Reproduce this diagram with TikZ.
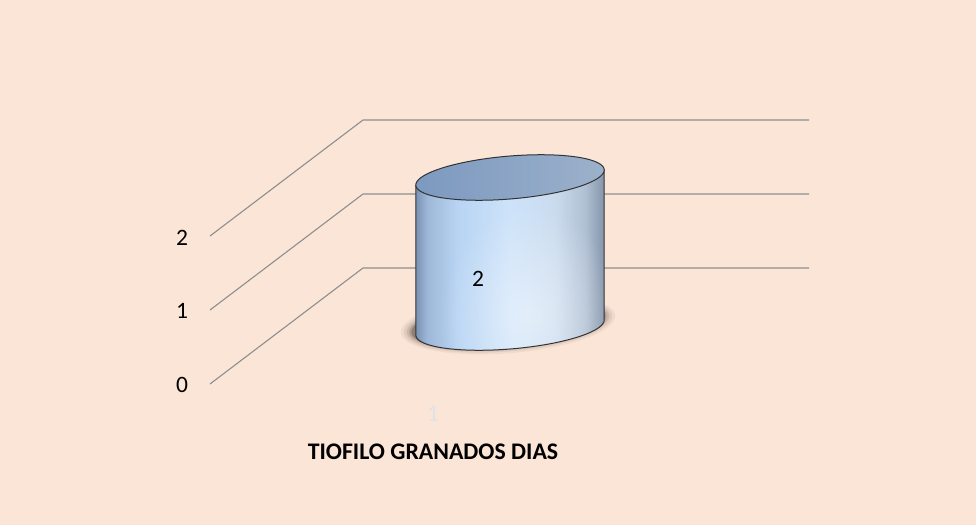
\documentclass[tikz,border=0pt]{standalone}
\usepackage{fontspec}
\setmainfont{Carlito}
\usetikzlibrary{fadings}
\definecolor{bgpeach}{HTML}{FBE5D7}
\definecolor{gridgray}{HTML}{8E8E8E}
\definecolor{cyltopA}{HTML}{7C99C0}
\definecolor{cyltopB}{HTML}{9CB1CB}
\definecolor{faintlabel}{HTML}{DCE3EA}
\pgfdeclarehorizontalshading{cylshade}{100bp}{
  color(0bp)=(rgb,255:red,122;green,146;blue,180);
  color(25bp)=(rgb,255:red,122;green,146;blue,180);
  color(28bp)=(rgb,255:red,158;green,183;blue,216);
  color(36bp)=(rgb,255:red,184;green,212;blue,243);
  color(50bp)=(rgb,255:red,205;green,227;blue,250);
  color(62bp)=(rgb,255:red,202;green,219;blue,238);
  color(70bp)=(rgb,255:red,176;green,192;blue,211);
  color(75bp)=(rgb,255:red,132;green,148;blue,170);
  color(100bp)=(rgb,255:red,132;green,148;blue,170)}
\tikzfading[name=softglow, inner color=transparent!55, outer color=transparent!100]
\tikzset{
  gridline/.style={draw=gridgray, line width=1.1pt},
  axislabel/.style={font=\fontsize{23.5}{24}\selectfont, text=black, inner sep=0pt},
  titlelabel/.style={font=\bfseries\fontsize{23.8}{24}\selectfont, text=black, inner sep=0pt},
  cylout/.style={draw=black!80, line width=1pt},
}
\begin{document}
\begin{tikzpicture}[x=1pt,y=-1pt]
\useasboundingbox (0,0) rectangle (976,525);
\fill[bgpeach] (0,0) rectangle (976,525);

% grid lines (floor-to-back-wall)
\coordinate (g0a) at (210,384); \coordinate (g0b) at (363,268); \coordinate (g0c) at (809,268);
\coordinate (g1a) at (210,310); \coordinate (g1b) at (363,194); \coordinate (g1c) at (809,194);
\coordinate (g2a) at (210,236); \coordinate (g2b) at (363,120); \coordinate (g2c) at (809,120);
\draw[gridline] (g0a) -- (g0b) -- (g0c);
\draw[gridline] (g1a) -- (g1b) -- (g1c);
\draw[gridline] (g2a) -- (g2b) -- (g2c);

% axis labels
\node[axislabel] (l0) at (182,385) {0};
\node[axislabel] (l1) at (182,311) {1};
\node[axislabel] (l2) at (182,238) {2};

% shadow (soft, dark near the base)
\foreach \r/\o in {13/0.05,10/0.07,7/0.10,4.5/0.15,2.5/0.22}{
  \fill[black!85!brown,opacity=\o] plot[domain=0:360,samples=90,smooth cycle]
    ({508+(94.2+\r)*cos(\x)},{324-8*cos(\x)+(21.5+\r*0.6)*sin(\x)});
}

% cylinder body
\def\bodypath{(415.8,185) -- (415.8,335)
  -- plot[domain=180:0,samples=60,smooth] ({510+94.2*cos(\x)},{327.5-7.5*cos(\x)+21.5*sin(\x)})
  -- (604.2,170)
  -- plot[domain=0:180,samples=60,smooth] ({510+94.2*cos(\x)},{177.5-7.5*cos(\x)+21.5*sin(\x)})
  -- cycle}
\shade[shading=cylshade] \bodypath;
\begin{scope}
  \clip \bodypath;
  \fill[white, path fading=softglow]
    (530,315) ellipse [x radius=90, y radius=110];
\end{scope}
\draw[cylout] (415.8,185) -- (415.8,335)
  -- plot[domain=180:0,samples=60,smooth] ({510+94.2*cos(\x)},{327.5-7.5*cos(\x)+21.5*sin(\x)})
  -- (604.2,170);
% top ellipse
\shade[left color=cyltopA, right color=cyltopB]
  plot[domain=0:360,samples=90,smooth cycle] ({510+94.2*cos(\x)},{177.5-7.5*cos(\x)+21.5*sin(\x)});
\draw[cylout]
  plot[domain=0:360,samples=90,smooth cycle] ({510+94.2*cos(\x)},{177.5-7.5*cos(\x)+21.5*sin(\x)});

% value label
\node[axislabel] (val) at (478,279) {2};
% category label
\node[axislabel, text=faintlabel] (cat) at (433,414) {1};
% title
\node[titlelabel] (title) at (433,452) {TIOFILO GRANADOS DIAS};
\end{tikzpicture}
\end{document}
